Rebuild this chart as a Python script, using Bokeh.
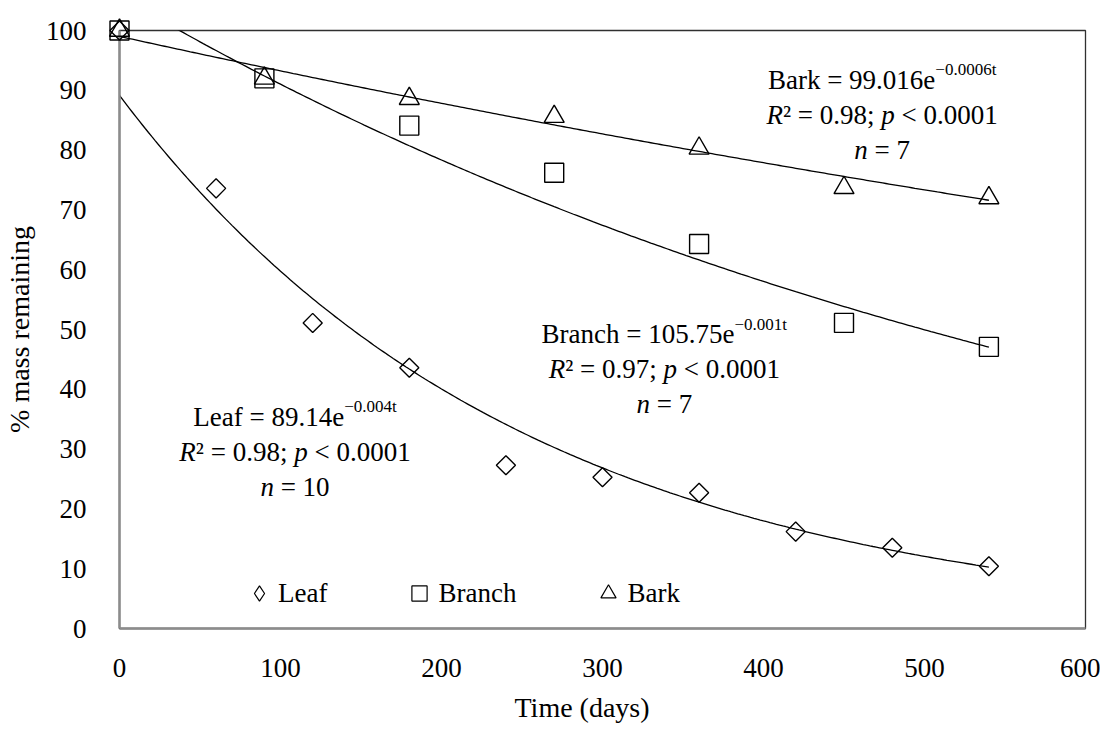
import numpy as np
from bokeh.plotting import figure
from bokeh.models import Range1d, FixedTicker, Label, Legend, LegendItem, Title
from bokeh.embed import file_html
from bokeh.resources import INLINE

# ---------------- data ----------------
leaf_days = [0, 60, 120, 180, 240, 300, 360, 420, 480, 540]
leaf_mass = [100.0, 73.6, 51.1, 43.6, 27.3, 25.3, 22.7, 16.2, 13.5, 10.4]

branch_days = [0, 90, 180, 270, 360, 450, 540]
branch_mass = [100.0, 92.0, 84.1, 76.2, 64.3, 51.1, 47.1]

bark_days = [0, 90, 180, 270, 360, 450, 540]
bark_mass = [100.0, 92.0, 88.6, 85.6, 80.3, 73.7, 72.0]

series_names = ["Leaf", "Branch", "Bark"]
fit_a = [89.14, 105.75, 99.016]          # fitted a in a*exp(-k t)
fit_k = [0.004, 0.0015, 0.0006]          # decay rate of the drawn trend lines
label_a = ["89.14", "105.75", "99.016"]  # as printed
label_k = ["0.004", "0.001", "0.0006"]   # as printed
fit_r2 = ["0.98", "0.97", "0.98"]
fit_n = ["10", "7", "7"]
fit_t_end = 540

x_ticks = [0, 100, 200, 300, 400, 500, 600]
y_ticks = [0, 10, 20, 30, 40, 50, 60, 70, 80, 90, 100]

# ---------------- styling / layout ----------------
FONT = "Liberation Serif"
F = 27          # main text size (px)
FS = 17         # superscript size (px)
LINE_GAP = 35   # px between equation lines
SUP_RAISE = 10  # px
# equation block anchors: (centre x in days, baseline of first line in %)
eq_cx = [109, 338.4, 473.7]
eq_cy = [35.4, 49.2, 91.8]

p = figure(width=1100, height=734, output_backend="svg", toolbar_location=None,
           x_range=Range1d(0, 600), y_range=Range1d(0, 100),
           min_border_left=110, min_border_right=15, min_border_top=30,
           min_border_bottom=106)
p.background_fill_color = "white"
p.border_fill_color = "white"
p.outline_line_color = "#303030"
p.outline_line_width = 1.3
p.xgrid.visible = False
p.ygrid.visible = False

for ax in (p.xaxis[0], p.yaxis[0]):
    ax.axis_line_color = "#8c8c8c"
    ax.axis_line_width = 2.5
    ax.major_tick_line_color = None
    ax.minor_tick_line_color = None
    ax.major_label_text_font = FONT
    ax.major_label_text_font_size = f"{F}px"
    ax.major_label_text_color = "black"
    ax.axis_label_text_font = FONT
    ax.axis_label_text_font_size = "28px"
    ax.axis_label_text_font_style = "normal"
    ax.axis_label_text_color = "black"

p.xaxis.ticker = FixedTicker(ticks=x_ticks)
p.yaxis.ticker = FixedTicker(ticks=y_ticks)
p.xaxis.major_label_standoff = 24
p.yaxis.major_label_standoff = 27
p.yaxis.axis_label = "% mass remaining"
p.yaxis.axis_label_standoff = 8

xt = Title(text="Time (days)", align="left", offset=395, text_font=FONT,
           text_font_size="28px", text_font_style="normal", text_color="black",
           standoff=20)
p.add_layout(xt, "below")

# ---------------- trend lines ----------------
t = np.linspace(0, fit_t_end, 271)
for a, k in zip(fit_a, fit_k):
    p.line(t, a * np.exp(-k * t), line_color="black", line_width=1.3)

# ---------------- points ----------------
mk = dict(line_color="black", line_width=1.4, fill_color=None, level="overlay")
p.scatter(leaf_days, leaf_mass, marker="square", angle=np.pi / 4, size=13.5, **mk)
p.scatter(branch_days, branch_mass, marker="square", size=19, **mk)
p.scatter(bark_days, bark_mass, marker="triangle", size=20, **mk)

# legend-only renderers (one undrawn point each, so the legend has a glyph)
lg = dict(line_color="black", line_width=1.2, fill_color=None)
r_leaf = p.scatter([np.nan], [np.nan], marker="diamond", **lg)
r_branch = p.scatter([np.nan], [np.nan], marker="square", **lg)
r_bark = p.scatter([np.nan], [np.nan], marker="triangle", **lg)

legend = Legend(items=[LegendItem(label="Leaf", renderers=[r_leaf]),
                       LegendItem(label="Branch", renderers=[r_branch]),
                       LegendItem(label="Bark", renderers=[r_bark])],
                orientation="horizontal", location=(121, 15),
                glyph_width=38, glyph_height=40, label_standoff=0, spacing=73,
                padding=0, margin=0, border_line_color=None,
                background_fill_alpha=0, label_text_font=FONT,
                label_text_font_size=f"{F}px", label_text_color="black")
p.add_layout(legend)

# ---------------- equation annotations ----------------
REG = {' ': 250, '=': 564, '.': 250, ';': 278, '<': 564, '\u2212': 564, '\u00b2': 300,
       'e': 444, 't': 278, 'L': 611, 'a': 444, 'f': 333, 'B': 667, 'r': 333,
       'n': 500, 'c': 444, 'h': 500, 'k': 500}
ITA = {'R': 611, 'p': 500, 'n': 500}


def width(s, size, italic):
    tab = ITA if italic else REG
    return sum(tab.get(ch, REG.get(ch, 500)) for ch in s) / 1000.0 * size


def draw_line(cx, cy, dy_line, pieces):
    total = sum(width(s, sz, it) for s, it, sz, _ in pieces)
    x = -total / 2.0
    for s, it, sz, raise_ in pieces:
        w = width(s, sz, it)
        if s.strip():
            p.add_layout(Label(x=cx, y=cy, x_offset=x, y_offset=dy_line + raise_,
                               text=s, text_font=FONT, text_font_size=f"{sz}px",
                               text_font_style="italic" if it else "normal",
                               text_color="black", text_align="left",
                               text_baseline="alphabetic"))
        x += w


for i, name in enumerate(series_names):
    cx, cy = eq_cx[i], eq_cy[i]
    draw_line(cx, cy, 0, [(f"{name} = {label_a[i]}e", False, F, 0),
                          (f"\u2212{label_k[i]}t", False, FS, SUP_RAISE)])
    draw_line(cx, cy, -LINE_GAP, [("R", True, F, 0),
                                  (f"\u00b2 = {fit_r2[i]};", False, F, 0),
                                  (" ", False, F, 0),
                                  ("p", True, F, 0),
                                  (" ", False, F, 0),
                                  ("< 0.0001", False, F, 0)])
    draw_line(cx, cy, -2 * LINE_GAP, [("n", True, F, 0),
                                      (" ", False, F, 0),
                                      (f"= {fit_n[i]}", False, F, 0)])

open("out.html", "w").write(file_html(p, INLINE))
